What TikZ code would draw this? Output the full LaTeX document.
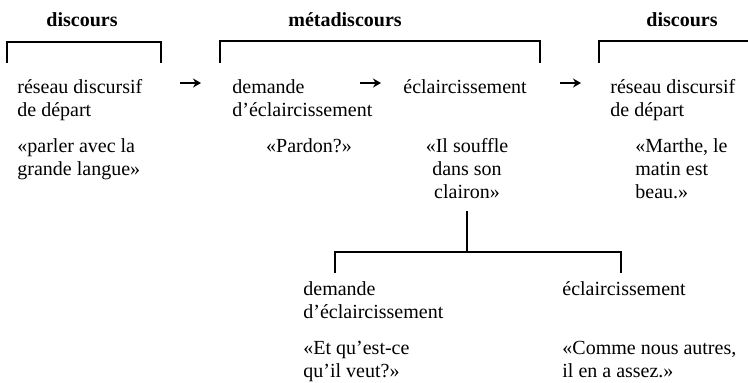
\documentclass[tikz,border=0pt]{standalone}
\usepackage{fontspec}
\setmainfont{Liberation Serif}
\usepackage{tikz}
\usetikzlibrary{arrows.meta,calc}
\tikzset{
  % Base text block
  TX/.style={inner sep=0pt,align=left,anchor=north west,
             font=\fontsize{10}{11.5}\selectfont},
  % Heading
  HD/.style={inner sep=0pt,font=\fontsize{10}{11.5}\selectfont\bfseries},
  % Bracket line
  brk/.style={line width=0.9pt},
  % Arrow
  arr/.style={-{Stealth[length=4pt,width=4.5pt]},line width=1pt}
}

\begin{document}
\begin{tikzpicture}[x=0.5pt,y=-0.5pt]
  \useasboundingbox (0,0) rectangle (748,382);

  % headings and brackets
  \node[HD] (dis1) at (82,20)  {discours};
  \node[HD] (meta) at (345,20) {métadiscours};
  \node[HD] (dis2) at (682,20) {discours};
  \draw[brk] (7,63)   |- (161,42) -- (161,63);
  \draw[brk] (220,63) |- (540,41) -- (540,63);
  \draw[brk] (599,63) |- (748,41);

  % upper row
  \node[TX] (res1) at (17,79)  {réseau discursif\\de départ};
  \node[TX] (parl) at (17,138) {«parler avec la\\grande langue»};
  \node[TX] (dem1) at (232,79) {demande\\d’éclaircissement};
  \node[TX,anchor=north,align=center] (pard) at (309,138) {«Pardon?»};
  \node[TX] (ecl1) at (403,79) {éclaircissement};
  \node[TX,anchor=north,align=center] (souf) at (467,138) {«Il souffle\\dans son\\clairon»};
  \node[TX] (res2) at (610,79) {réseau discursif\\de départ};
  \node[TX] (mart) at (635,138) {«Marthe, le\\matin est\\beau.»};

  \draw[arr] ($(dem1.north west)+(-52,4)$) -- ++(21,0);
  \draw[arr] ($(ecl1.north west)+(-43,4)$) -- ++(21,0);
  \draw[arr] ($(res2.north west)+(-50,4)$) -- ++(21,0);

  % lower row
  \coordinate (lowL) at (335,252);
  \coordinate (lowR) at (621,252);
  \draw[brk,shorten <=6pt] (souf.south) -- (souf.south |- lowL);
  \draw[brk] ($(lowL)+(0,21)$) -- (lowL) -- (lowR) -- ++(0,21);

  \node[TX] (dem2) at (303,281) {demande\\d’éclaircissement};
  \node[TX] (ecl2) at (562,281) {éclaircissement};
  \node[TX] (veut) at (303,341) {«Et qu’est-ce\\qu’il veut?»};
  \node[TX] (asse) at (562,341) {«Comme nous autres,\\il en a assez.»};
\end{tikzpicture}
\end{document}
